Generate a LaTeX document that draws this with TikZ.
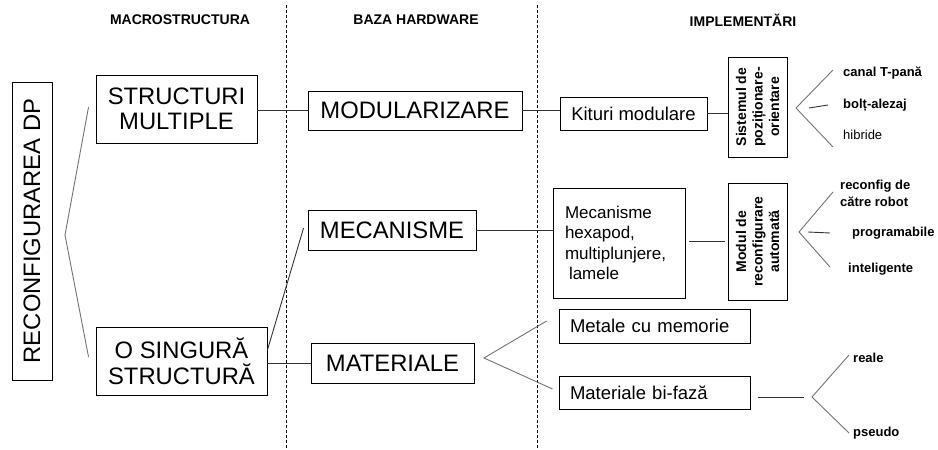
\documentclass[tikz,border=0pt]{standalone}
\usepackage{fontspec}
\setmainfont{Liberation Sans}
\usetikzlibrary{positioning}

\tikzset{
  bigbox/.style={draw, line width=0.9pt, font=\fontsize{23.8}{25}\selectfont, align=center, inner sep=2pt},
  midbox/.style={draw, line width=0.9pt, font=\fontsize{18.5}{21}\selectfont, inner sep=2pt},
  vbox/.style={draw, line width=0.9pt, rotate=90, font=\fontsize{14}{16.5}\selectfont\bfseries, align=center, inner sep=1pt},
  colhead/.style={font=\fontsize{14}{16}\selectfont\bfseries},
  leaf/.style={font=\fontsize{13}{16.5}\selectfont\bfseries, anchor=west, inner sep=0pt, align=left},
  link/.style={draw=black!80, line width=0.9pt},
  fan/.style={draw=black!55, line width=0.9pt},
  colsep/.style={dash pattern=on 3pt off 2pt, line width=0.8pt}
}

\begin{document}
\begin{tikzpicture}[x=1pt,y=-1pt]
  \useasboundingbox (0,0) rectangle (938,450);

  \node[colhead] (hmacro) at (180,20) {MACROSTRUCTURA};
  \node[colhead] (hbaza) at (416,20) {BAZA HARDWARE};
  \node[colhead] (himpl) at (743,20) {IMPLEMENTĂRI};

  \draw[colsep] (286,5) -- (286,450);
  \draw[colsep] (537,5) -- (537,450);

  \node[bigbox, rotate=90, minimum width=298pt, minimum height=40pt] (reconf) at (32,231) {RECONFIGURAREA DP};

  \node[bigbox, minimum width=161pt, minimum height=68pt] (multiple) at (176.5,109) {STRUCTURI\\MULTIPLE};
  \node[bigbox, minimum width=171pt, minimum height=68pt, font=\fontsize{23.8}{26}\selectfont] (singura) at (181.5,361) {O SINGURĂ\\STRUCTURĂ};

  \node[bigbox, minimum width=214pt, minimum height=39pt] (modular) at (415,110.5) {MODULARIZARE};
  \node[bigbox, minimum width=168pt, minimum height=40pt] (mecan) at (392,230) {MECANISME};
  \node[bigbox, minimum width=163pt, minimum height=40pt] (mater) at (392.5,363) {MATERIALE};

  \node[midbox, minimum width=147pt, minimum height=33pt] (kituri) at (633.5,113.5) {Kituri modulare};
  \node[midbox, font=\fontsize{17}{20.5}\selectfont, text width=108pt, inner xsep=12pt, align=left, minimum height=110pt] (hexapod) at (619,243)
    {Mecanisme\\hexapod,\\multiplunjere,\\\hspace*{4pt}lamele};
  \node[midbox, text width=169pt, inner xsep=11pt, align=left, minimum height=34pt] (metale) at (654.5,326) {Metale cu memorie};
  \node[midbox, text width=169pt, inner xsep=11pt, align=left, minimum height=33pt] (bifaza) at (654.5,392.5) {Materiale bi-fază};

  \node[vbox, minimum width=100pt, minimum height=59pt] (sistem) at (757.5,107) {Sistemul de\\poziționare-\\orientare};
  \node[vbox, minimum width=117pt, minimum height=59pt] (modrec) at (757.5,241.5) {Modul de\\reconfigurare\\automată};

  \node[leaf] (canal) at (843,73) {canal T-pană};
  \node[leaf] (bolt) at (843,105) {bolț-alezaj};
  \node[leaf, font=\fontsize{13}{16}\selectfont] (hibride) at (843,135) {hibride};
  \node[leaf] (robot) at (840,193.5) {reconfig de\\către robot};
  \node[leaf] (program) at (852,233) {programabile};
  \node[leaf] (intel) at (848,269) {inteligente};
  \node[leaf] (reale) at (853,358) {reale};
  \node[leaf] (pseudo) at (853,433) {pseudo};

  \coordinate (rootfork) at (65,235);
  \coordinate (sysfork) at (796,108);
  \coordinate (autofork) at (799,232);
  \coordinate (matfork) at (484,358);
  \coordinate (phasefork) at (812,397);

  \draw[fan] ([xshift=-7pt,yshift=2pt]multiple.west) -- (rootfork) -- ([xshift=-7pt,yshift=4pt]singura.west);

  \draw[link] (multiple.east |- modular.west) -- (modular.west);
  \draw[link] (modular.east) -- (modular.east -| kituri.west);
  \draw[link] (kituri.east) -- (kituri.east -| sistem.north);
  \draw[link] (mecan.east) -- (mecan.east -| hexapod.west);
  \draw[link, shorten <=4pt, shorten >=3pt] (hexapod.east |- modrec.north) -- (modrec.north);
  \draw[link] (singura.east |- mater.west) -- (mater.west);
  \draw[link] ([yshift=11pt]singura.east) -- ([xshift=-4pt,yshift=2pt]mecan.west);

  \draw[fan] ([xshift=-10pt,yshift=3pt]canal.west) -- (sysfork) -- ([xshift=-10pt,yshift=-12pt]hibride.west);
  \draw[link] ([xshift=13pt]sysfork) -- ([xshift=-15pt]bolt.west);

  \draw[fan] ([xshift=-7pt,yshift=1.5pt]robot.west) -- (autofork) -- ([xshift=-18pt,yshift=2pt]intel.west);
  \draw[link] ([xshift=9pt]autofork) -- ([xshift=-22pt]program.west);

  \draw[fan] ([xshift=-12pt,yshift=5pt]metale.west) -- (matfork) -- ([xshift=-6pt,yshift=3.5pt]bifaza.west);

  \draw[link] (bifaza.east |- phasefork) ++(8,0) -- ([xshift=-8pt]phasefork);
  \draw[fan] ([xshift=-4pt,yshift=3pt]reale.west) -- (phasefork) -- ([xshift=-4pt]pseudo.west);
\end{tikzpicture}
\end{document}
